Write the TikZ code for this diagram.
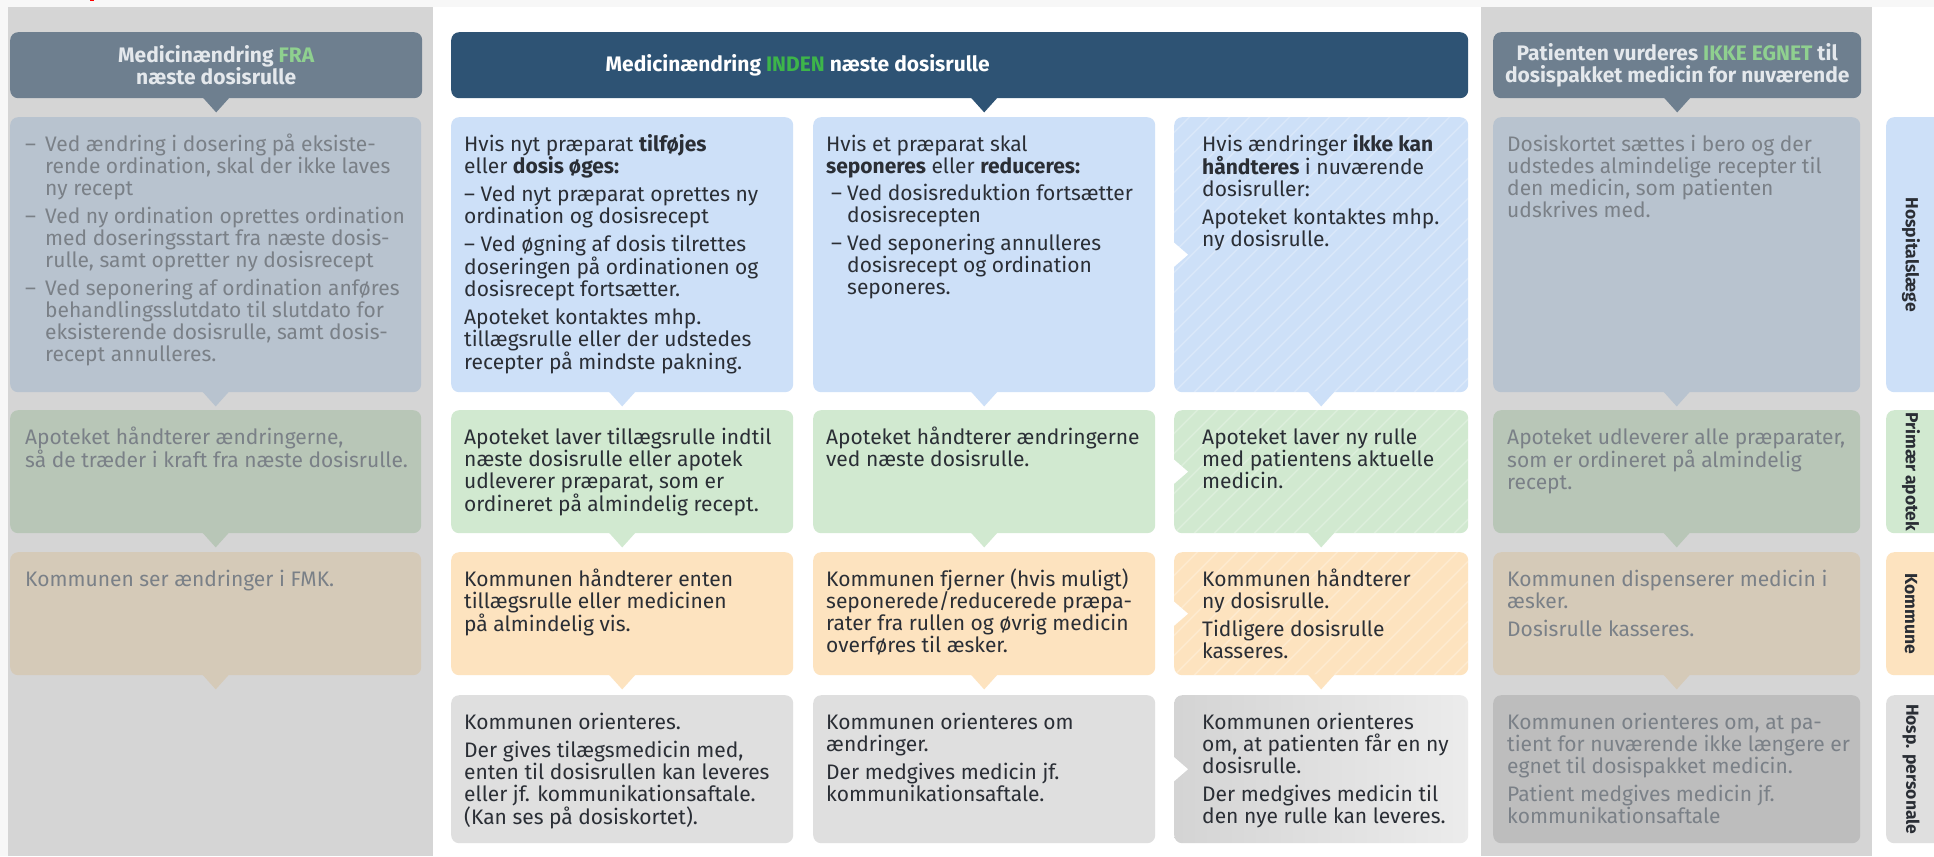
\documentclass[tikz,border=0pt]{standalone}
\usepackage{fontspec}
\setmainfont{Fira Sans}
\usetikzlibrary{calc}
\definecolor{strip}{HTML}{F7F7F7}
\definecolor{panel}{HTML}{D5D5D5}
\definecolor{hdgray}{HTML}{6E7F8F}
\definecolor{hdnavy}{HTML}{2E5374}
\definecolor{hdtext}{HTML}{E4E8EC}
\definecolor{fadegreen}{HTML}{8FD08F}
\definecolor{brightgreen}{HTML}{3DB54A}
\definecolor{cblue}{HTML}{CDE0F8}
\definecolor{cgreen}{HTML}{D1E9D0}
\definecolor{corange}{HTML}{FDE3BF}
\definecolor{cgray}{HTML}{DFDFDF}
\definecolor{gblue}{HTML}{B8C3CF}
\definecolor{ggreen}{HTML}{B8C6B7}
\definecolor{gorange}{HTML}{D5CAB8}
\definecolor{ggray}{HTML}{BDBDBD}
\definecolor{dtext}{HTML}{2A2E35}
\definecolor{gtext}{HTML}{7A8087}
\newcommand\cbox[7][]{\node[boxshape,fill=#7,minimum width=#5pt,minimum height=#6pt,#1] (#2) at (#3,#4) {};}
\newcommand\ptr[2]{\fill[#1] ($#2+(-13.5,-1)$) -- ($#2+(0,14)$) -- ($#2+(13.5,-1)$) -- cycle;}
\newcommand\notch[1]{\fill[white] ($(#1.west)+(-1,-13)$) -- ($(#1.west)+(14,0)$) -- ($(#1.west)+(-1,13)$) -- cycle;}
\newcommand\fs{\rule{0pt}{18pt}}
\newcommand\hd{\makebox[20pt][l]{–}}
\newcommand\hi{\hspace*{20pt}}
\newcommand\dd{\makebox[21pt][l]{\hspace*{5pt}–}}
\newcommand\di{\hspace*{21pt}}
\begin{document}
\begin{tikzpicture}[x=1pt,y=-1pt,
 boxshape/.style={rectangle, rounded corners=8pt, inner sep=0pt, anchor=north west, draw=none},
 txt/.style={anchor=north west, inner sep=0pt, align=left, font=\fontsize{21}{22}\selectfont, text=dtext},
 gtxt/.style={txt, text=gtext},
 hdrtxt/.style={align=center, inner sep=0pt, font=\fontsize{21}{22}\selectfont\bfseries},
 tablbl/.style={rotate=-90, inner sep=0pt, font=\fontsize{17.5}{18}\selectfont\bfseries, text=dtext},
 stripes/.style={path picture={\foreach \i in {-400,-380,...,400} \draw[white, opacity=0.25, line width=1.6pt] ($(path picture bounding box.south west)+(\i,0)$) -- ++(400,-400);}},
]
\clip (0,0) rectangle (1934,856);
% background
\fill[white] (0,0) rectangle (1934,856);
\fill[strip] (0,0) rectangle (1934,7);
\fill[strip] (0,0) rectangle (8,856);
\fill[panel] (8,7) rectangle (433,856);
\fill[panel] (1481,7) rectangle (1872,856);
\fill[red] (90,0) rectangle (94,1.5);

% headers
\cbox{hdL}{10}{32}{412}{66}{hdgray}
\cbox{hdM}{451}{32}{1017}{66}{hdnavy}
\cbox{hdR}{1493}{32}{368}{66}{hdgray}

% column 1 (grey)
\cbox{b11}{10}{117}{411}{275}{gblue}
\cbox{b12}{10}{410}{411}{123}{ggreen}
\cbox{b13}{10}{552}{411}{123}{gorange}
% column 2
\cbox{b21}{451}{117}{342}{275}{cblue}
\cbox{b22}{451}{410}{342}{123}{cgreen}
\cbox{b23}{451}{552}{342}{123}{corange}
\cbox{b24}{451}{695}{342}{148}{cgray}
% column 3
\cbox{b31}{813}{117}{342}{275}{cblue}
\cbox{b32}{813}{410}{342}{123}{cgreen}
\cbox{b33}{813}{552}{342}{123}{corange}
\cbox{b34}{813}{695}{342}{148}{cgray}
% column 4 (hatched)
\cbox[stripes]{b41}{1174}{117}{294}{275}{cblue}
\cbox[stripes]{b42}{1174}{410}{294}{123}{cgreen}
\cbox[stripes]{b43}{1174}{552}{294}{123}{corange}
\node[boxshape, left color=cgray!95!black, right color=cgray!60!white, minimum width=294pt, minimum height=148pt] (b44) at (1174,695) {};
% column 5 (grey)
\cbox{b51}{1493}{117}{367}{275}{gblue}
\cbox{b52}{1493}{410}{367}{123}{ggreen}
\cbox{b53}{1493}{552}{367}{123}{gorange}
\cbox{b54}{1493}{695}{367}{148}{ggray}
% side tabs
\cbox{tab1}{1886}{117}{70}{275}{cblue}
\cbox{tab2}{1886}{410}{70}{123}{cgreen}
\cbox{tab3}{1886}{552}{70}{123}{corange}
\cbox{tab4}{1886}{695}{70}{148}{cgray}

% pointers
\coordinate (mptr) at (hdM.south -| b31.south);
\ptr{hdgray}{(hdL.south)}
\ptr{hdnavy}{(mptr)}
\ptr{hdgray}{(hdR.south)}
\ptr{gblue}{(b11.south)}
\ptr{ggreen}{(b12.south)}
\ptr{gorange}{(b13.south)}
\ptr{cblue}{(b21.south)}
\ptr{cgreen}{(b22.south)}
\ptr{corange}{(b23.south)}
\ptr{cblue}{(b31.south)}
\ptr{cgreen}{(b32.south)}
\ptr{corange}{(b33.south)}
\ptr{cblue}{(b41.south)}
\ptr{cgreen}{(b42.south)}
\ptr{corange}{(b43.south)}
\ptr{gblue}{(b51.south)}
\ptr{ggreen}{(b52.south)}
\ptr{gorange}{(b53.south)}

% notches in column 4
\notch{b41}
\notch{b42}
\notch{b43}
\notch{b44}

% header texts
\node[hdrtxt, text=hdtext] (hLt) at (hdL.center) {Medicinændring \textcolor{fadegreen}{FRA}\\næste dosisrulle};
\node[hdrtxt, text=white] (hMt) at ($(hdM.center)+(-162,0)$) {Medicinændring \textcolor{brightgreen}{INDEN} næste dosisrulle};
\node[hdrtxt, text=hdtext] (hRt) at (hdR.center) {Patienten vurderes \textcolor{fadegreen}{IKKE EGNET} til\\dosispakket medicin for nuværende};

% row 1 texts
\node[gtxt] (t11) at ($(b11.north west)+(15,16)$) {\fs\hd Ved ændring i dosering på eksiste-\\
\hi rende ordination, skal der ikke laves\\
\hi ny recept\\[6pt]
\hd Ved ny ordination oprettes ordination\\
\hi med doseringsstart fra næste dosis-\\
\hi rulle, samt opretter ny dosisrecept\\[6pt]
\hd Ved seponering af ordination anføres\\
\hi behandlingsslutdato til slutdato for\\
\hi eksisterende dosisrulle, samt dosis-\\
\hi recept annulleres.};
\node[txt] (t21) at ($(b21.north west)+(13,16)$) {\fs Hvis nyt præparat \textbf{tilføjes}\\
eller \textbf{dosis øges:}\\[6pt]
– Ved nyt præparat oprettes ny\\
ordination og dosisrecept\\[6pt]
– Ved øgning af dosis tilrettes\\
doseringen på ordinationen og\\
dosisrecept fortsætter.\\[6pt]
Apoteket kontaktes mhp.\\
tillægsrulle eller der udstedes\\
recepter på mindste pakning.};
\node[txt] (t31) at ($(b31.north west)+(13,16)$) {\fs Hvis et præparat skal\\
\textbf{seponeres} eller \textbf{reduceres:}\\[5pt]
\dd Ved dosisreduktion fortsætter\\
\di dosisrecepten\\[6pt]
\dd Ved seponering annulleres\\
\di dosisrecept og ordination\\
\di seponeres.};
\node[txt] (t41) at ($(b41.north west)+(28,16)$) {\fs Hvis ændringer \textbf{ikke kan}\\
\textbf{håndteres} i nuværende\\
dosisruller:\\[6pt]
Apoteket kontaktes mhp.\\
ny dosisrulle.};
\node[gtxt] (t51) at ($(b51.north west)+(14,16)$) {\fs Dosiskortet sættes i bero og der\\
udstedes almindelige recepter til\\
den medicin, som patienten\\
udskrives med.};

% row 2 texts
\node[gtxt] (t12) at ($(b12.north west)+(15,16)$) {\fs Apoteket håndterer ændringerne,\\
så de træder i kraft fra næste dosisrulle.};
\node[txt] (t22) at ($(b22.north west)+(13,16)$) {\fs Apoteket laver tillægsrulle indtil\\
næste dosisrulle eller apotek\\
udleverer præparat, som er\\
ordineret på almindelig recept.};
\node[txt] (t32) at ($(b32.north west)+(13,16)$) {\fs Apoteket håndterer ændringerne\\
ved næste dosisrulle.};
\node[txt] (t42) at ($(b42.north west)+(28,16)$) {\fs Apoteket laver ny rulle\\
med patientens aktuelle\\
medicin.};
\node[gtxt] (t52) at ($(b52.north west)+(14,16)$) {\fs Apoteket udleverer alle præparater,\\
som er ordineret på almindelig\\
recept.};

% row 3 texts
\node[gtxt] (t13) at ($(b13.north west)+(15,16)$) {\fs Kommunen ser ændringer i FMK.};
\node[txt] (t23) at ($(b23.north west)+(13,16)$) {\fs Kommunen håndterer enten\\
tillægsrulle eller medicinen\\
på almindelig vis.};
\node[txt] (t33) at ($(b33.north west)+(13,16)$) {\fs Kommunen fjerner (hvis muligt)\\
seponerede/reducerede præpa-\\
rater fra rullen og øvrig medicin\\
overføres til æsker.};
\node[txt] (t43) at ($(b43.north west)+(28,16)$) {\fs Kommunen håndterer\\
ny dosisrulle.\\[6pt]
Tidligere dosisrulle\\
kasseres.};
\node[gtxt] (t53) at ($(b53.north west)+(14,16)$) {\fs Kommunen dispenserer medicin i\\
æsker.\\[6pt]
Dosisrulle kasseres.};

% row 4 texts
\node[txt] (t24) at ($(b24.north west)+(13,16)$) {\fs Kommunen orienteres.\\[6pt]
Der gives tilægsmedicin med,\\
enten til dosisrullen kan leveres\\
eller jf. kommunikationsaftale.\\
(Kan ses på dosiskortet).};
\node[txt] (t34) at ($(b34.north west)+(13,16)$) {\fs Kommunen orienteres om\\
ændringer.\\[6pt]
Der medgives medicin jf.\\
kommunikationsaftale.};
\node[txt] (t44) at ($(b44.north west)+(28,16)$) {\fs Kommunen orienteres\\
om, at patienten får en ny\\
dosisrulle.\\[6pt]
Der medgives medicin til\\
den nye rulle kan leveres.};
\node[gtxt] (t54) at ($(b54.north west)+(14,16)$) {\fs Kommunen orienteres om, at pa-\\
tient for nuværende ikke længere er\\
egnet til dosispakket medicin.\\[6pt]
Patient medgives medicin jf.\\
kommunikationsaftale};

% side tab labels
\node[tablbl] (l1) at ($(tab1.west)+(25,0)$) {Hospitalslæge};
\node[tablbl] (l2) at ($(tab2.west)+(25,0)$) {Primær apotek};
\node[tablbl] (l3) at ($(tab3.west)+(25,0)$) {Kommune};
\node[tablbl] (l4) at ($(tab4.west)+(25,0)$) {Hosp. personale};
\end{tikzpicture}
\end{document}
